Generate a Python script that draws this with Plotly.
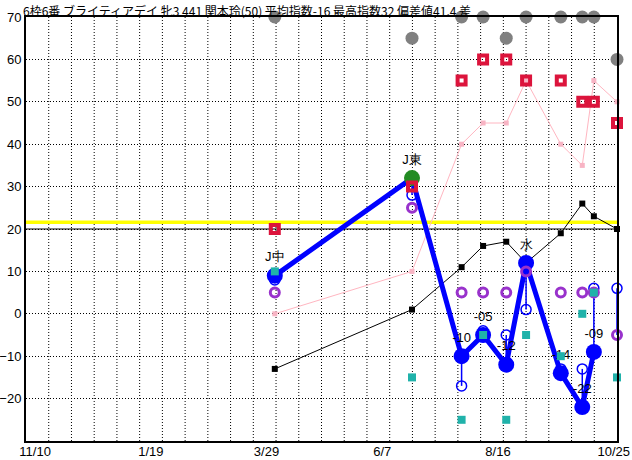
import plotly.graph_objects as go

# ---------------- data ----------------
race_dates = ["2024-04-03", "2024-06-25", "2024-07-25", "2024-08-07", "2024-08-21",
              "2024-09-02", "2024-09-23", "2024-10-06", "2024-10-13", "2024-10-27"]
race_labels = ["J中", "J東", "-10", "-05", "-12", "水", "-14", "-22", "-09", ""]

gray_vals = [70, 65, 70, 70, 65, 70, 70, 70, 70, 60]
crimson_vals = [20, 30, 55, 60, 60, 55, 55, 50, 50, 45]
pink_vals = [0, 10, 40, 45, 45, 55, 40, 35, 55, 50]
black_vals = [-13, 1, 11, 16, 17, 12, 19, 26, 23, 20]
index_vals = [9, 32, -10, -5, -12, 12, -14, -22, -9, None]
open_vals = [8, 28, -17, -4, -5, 1, -13, -13, 6, 6]
range_end_vals = [9, 32, -10, -5, -12, 12, -14, -22, -9, -5]
purple_vals = [5, 25, 5, 5, 5, 10, 5, 5, 5, -5]
teal_vals = [10, -15, -25, -5, -25, -5, -10, 0, 5, -15]

BASE_LINE = 20
YELLOW_LINE = 21.6

x_tick_vals = ["2023-11-10", "2024-01-19", "2024-03-29", "2024-06-07", "2024-08-16", "2024-10-25"]
x_tick_text = ["11/10", "1/19", "3/29", "6/7", "8/16", "10/25"]
y_tick_vals = [-20, -10, 0, 10, 20, 30, 40, 50, 60, 70]

title_text = "6枠6番 ブライティアデイ 牝3 441 関本玲(50) 平均指数-16 最高指数32 偏差値41.4 差"

# ---------------- figure ----------------
fig = go.Figure()

fig.add_trace(go.Scatter(
    x=race_dates, y=pink_vals, mode="lines+markers",
    line=dict(color="#FFB6C1", width=1),
    marker=dict(symbol="square", size=5, color="#F8B4C4"),
    cliponaxis=False, showlegend=False))

fig.add_trace(go.Scatter(
    x=race_dates, y=black_vals, mode="lines+markers",
    line=dict(color="black", width=1),
    marker=dict(symbol="square", size=6, color="black"),
    cliponaxis=False, showlegend=False))

seg_x, seg_y = [], []
for d, a, b in zip(race_dates, open_vals, range_end_vals):
    seg_x += [d, d, None]
    seg_y += [a, b, None]
fig.add_trace(go.Scatter(
    x=seg_x, y=seg_y, mode="lines",
    line=dict(color="#0000FF", width=1.5),
    cliponaxis=False, showlegend=False))

fig.add_trace(go.Scatter(
    x=race_dates, y=open_vals, mode="markers",
    marker=dict(symbol="circle-open", size=10, color="#0000FF", line=dict(width=1.5)),
    cliponaxis=False, showlegend=False))

best = max(v for v in index_vals if v is not None)
idx_colors = ["#228B22" if v == best else "#0000FF" for v in index_vals]
fig.add_trace(go.Scatter(
    x=race_dates, y=index_vals, mode="lines+markers+text",
    text=race_labels, textposition="top center",
    textfont=dict(size=13, color="black", family="Liberation Sans"),
    line=dict(color="#0000FF", width=5),
    marker=dict(symbol="circle", size=16, color=idx_colors),
    cliponaxis=False, showlegend=False))

fig.add_trace(go.Scatter(
    x=race_dates, y=purple_vals, mode="markers",
    marker=dict(symbol="circle-open", size=9, color="#9932CC", line=dict(width=3)),
    cliponaxis=False, showlegend=False))

fig.add_trace(go.Scatter(
    x=race_dates, y=crimson_vals, mode="markers",
    marker=dict(symbol="square-open", size=8, color="#DC143C", line=dict(width=4)),
    cliponaxis=False, showlegend=False))

fig.add_trace(go.Scatter(
    x=race_dates, y=teal_vals, mode="markers",
    marker=dict(symbol="square", size=8, color="#20B2AA"),
    cliponaxis=False, showlegend=False))

fig.add_trace(go.Scatter(
    x=race_dates, y=gray_vals, mode="markers",
    marker=dict(symbol="circle", size=13, color="#808080"),
    cliponaxis=False, showlegend=False))

# vertical dotted grid: 26 equal divisions of the plot area
shapes = []
N_VGRID = 26
for i in range(1, N_VGRID):
    shapes.append(dict(type="line", xref="paper", yref="paper",
                       x0=i / N_VGRID, x1=i / N_VGRID, y0=0, y1=1,
                       line=dict(color="black", width=1, dash="1px,2px"), layer="below"))
shapes.append(dict(type="line", xref="paper", yref="y", x0=0, x1=1,
                   y0=YELLOW_LINE, y1=YELLOW_LINE, line=dict(color="#FFFF00", width=3.5), layer="below"))
shapes.append(dict(type="line", xref="paper", yref="y", x0=0, x1=1,
                   y0=BASE_LINE, y1=BASE_LINE, line=dict(color="black", width=1), layer="below"))

fig.update_layout(
    width=632, height=460, autosize=False,
    margin=dict(l=26, r=15, t=17, b=19, pad=0),
    paper_bgcolor="white", plot_bgcolor="white",
    font=dict(family="Liberation Sans", size=13, color="black"),
    shapes=shapes,
    annotations=[dict(text=title_text, xref="paper", yref="paper", x=0, y=1,
                      xanchor="left", yanchor="top", xshift=-4, yshift=16,
                      showarrow=False, borderpad=0,
                      font=dict(family="Noto Sans CJK JP", size=12, color="black"))],
    xaxis=dict(type="date", range=["2023-11-04 12:00", "2024-10-27 00:00"],
               tickvals=x_tick_vals, ticktext=x_tick_text, ticks="",
               ticklabelstandoff=-3,
               showgrid=False, zeroline=False, automargin=False,
               showline=True, mirror=True, linecolor="black", linewidth=2,
               tickfont=dict(size=13)),
    yaxis=dict(range=[-30, 70], tickvals=y_tick_vals, ticks="",
               showgrid=True, gridcolor="black", gridwidth=1, griddash="1px,2px",
               zeroline=False, automargin=False,
               showline=True, mirror=True, linecolor="black", linewidth=2,
               tickfont=dict(size=13)),
)

fig.write_html("out.html",
               config={"displayModeBar": False},
               post_script="document.body.style.margin='0';document.body.style.overflow='hidden';")
